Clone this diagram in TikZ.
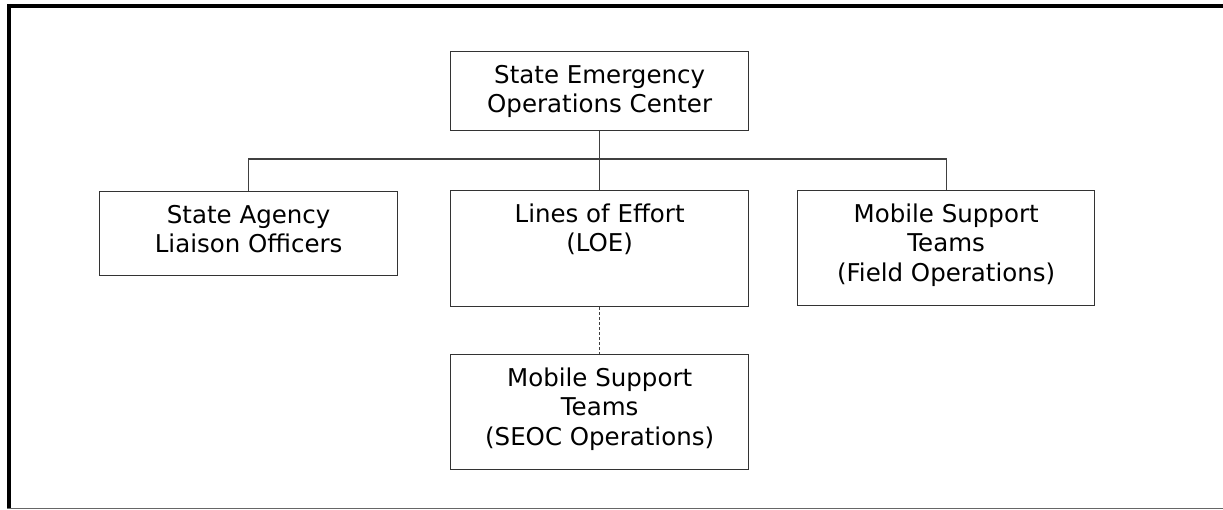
\documentclass[tikz,border=0pt]{standalone}
\usepackage{fontspec}
\setmainfont{DejaVu Sans}
\usepackage{tikz}
\usepackage{xcolor}
\tikzset{
    org-box/.style = {draw=black!80, fill=white, line width=1.3pt, rectangle, inner sep=0pt, anchor=north west},
    org-link/.style = {draw=black!75, line width=1.3pt},
    org-dash/.style = {draw=black!75, line width=1.1pt, dash pattern=on 3pt off 2pt},
}

\begin{document}
\begin{tikzpicture}[x=1pt, y=-1pt, font=\fontsize{24.5}{29.5}\selectfont]
\useasboundingbox (0,0) rectangle (1223,510);
% frame of the page
\draw[line width=4.4pt] (7,6.3) -- (1223,6.3);
\draw[line width=4.4pt] (9,4) -- (9,509);
\draw[black!60, line width=1.5pt] (7,508.5) -- (1223,508.5);

\node [org-box] (seoc) at (450,51) {\begin{minipage}[t][79pt][t]{298pt}\centering
    \vspace*{11pt}\strut State Emergency\\Operations Center
\end{minipage}};
\node [org-box] (liaison) at (99,191) {\begin{minipage}[t][84pt][t]{298pt}\centering
    \vspace*{11pt}\strut State Agency\\Liaison Officers
\end{minipage}};
\node [org-box] (loe) at (450,190) {\begin{minipage}[t][116pt][t]{298pt}\centering
    \vspace*{11pt}\strut Lines of Effort\\(LOE)
\end{minipage}};
\node [org-box] (field) at (797,190) {\begin{minipage}[t][115pt][t]{297pt}\centering
    \vspace*{11pt}\strut Mobile Support\\Teams\\(Field Operations)
\end{minipage}};
\node [org-box] (seocops) at (450,354) {\begin{minipage}[t][115pt][t]{298pt}\centering
    \vspace*{11pt}\strut Mobile Support\\Teams\\(SEOC Operations)
\end{minipage}};

\coordinate (bus) at (596,159);
\draw [org-link] (seoc.south) -- (loe.north);
\draw [org-link] (liaison.north) |- (bus) -| (field.north);
\draw [org-dash] (loe.south) -- (seocops.north);
\end{tikzpicture}
\end{document}
